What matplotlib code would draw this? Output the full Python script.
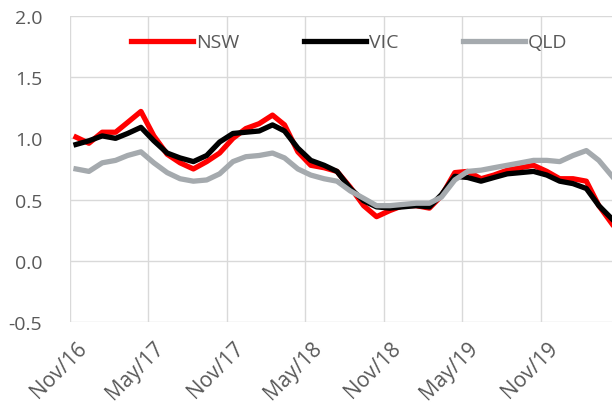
import matplotlib
matplotlib.use("Agg")
import matplotlib.pyplot as plt
import matplotlib.dates as mdates
import matplotlib.transforms as mtrans
import pandas as pd

# monthly series, Nov-2016 .. Apr-2020 (points plotted mid-month)
months = pd.date_range("2016-11-01", periods=42, freq="MS") + pd.Timedelta(days=14)

nsw = [1.01, 0.96, 1.05, 1.05, 1.13, 1.22, 1.02, 0.87, 0.80, 0.75, 0.81, 0.88,
       1.00, 1.08, 1.12, 1.19, 1.11, 0.89, 0.78, 0.76, 0.73, 0.60, 0.45, 0.36,
       0.41, 0.45, 0.45, 0.43, 0.53, 0.72, 0.73, 0.67, 0.70, 0.74, 0.76, 0.78,
       0.73, 0.67, 0.67, 0.65, 0.45, 0.30]
vic = [0.95, 0.98, 1.02, 1.00, 1.04, 1.09, 0.98, 0.88, 0.84, 0.81, 0.86, 0.97,
       1.04, 1.05, 1.06, 1.11, 1.06, 0.92, 0.82, 0.78, 0.73, 0.59, 0.49, 0.44,
       0.43, 0.44, 0.45, 0.44, 0.54, 0.69, 0.68, 0.65, 0.68, 0.71, 0.72, 0.73,
       0.70, 0.65, 0.63, 0.59, 0.45, 0.34]
qld = [0.75, 0.73, 0.80, 0.82, 0.86, 0.89, 0.80, 0.72, 0.67, 0.65, 0.66, 0.71,
       0.81, 0.85, 0.86, 0.88, 0.84, 0.75, 0.70, 0.67, 0.65, 0.57, 0.51, 0.45,
       0.45, 0.46, 0.47, 0.47, 0.52, 0.66, 0.73, 0.74, 0.76, 0.78, 0.80, 0.82,
       0.82, 0.81, 0.86, 0.90, 0.82, 0.69]

plt.rcParams['font.family'] = ['Open Sans', 'DejaVu Sans']

fig = plt.figure(figsize=(6.14, 4.14), dpi=100)
ax = fig.add_axes([0.114, 0.220, 0.883, 0.739])

ax.plot(months, nsw, color="#ff0000", lw=3.8, label="NSW")
ax.plot(months, vic, color="#000000", lw=3.8, label="VIC")
ax.plot(months, qld, color="#a5aaae", lw=3.8, label="QLD")

ax.set_ylim(-0.5, 2.0)
ax.set_yticks([-0.5, 0.0, 0.5, 1.0, 1.5, 2.0])
ax.yaxis.set_major_formatter(matplotlib.ticker.FormatStrFormatter('%.1f'))
ax.set_xlim(pd.Timestamp("2016-11-01"), months[-1])
ax.xaxis.set_major_locator(mdates.MonthLocator(bymonth=[5, 11]))
ax.xaxis.set_major_formatter(mdates.DateFormatter('%b/%y'))

ax.grid(True, color="#d9d9d9", lw=1.0)
ax.set_axisbelow(True)
for s in ax.spines.values():
    s.set_visible(False)
ax.tick_params(axis='both', length=0, labelsize=14, labelcolor="#595959")
ax.tick_params(axis='y', pad=20)
ax.tick_params(axis='x', pad=11, labelsize=15)
shift = mtrans.ScaledTranslation(0.06, 0, fig.dpi_scale_trans)
for lab in ax.get_xticklabels():
    lab.set_rotation(45)
    lab.set_ha('right')
    lab.set_va('top')
    lab.set_rotation_mode('anchor')
    lab.set_transform(lab.get_transform() + shift)

leg = ax.legend(loc='upper center', bbox_to_anchor=(0.515, 1.0), ncol=3, frameon=False,
                fontsize=14, handlelength=3.2, handletextpad=0.15, columnspacing=3.3,
                labelcolor="#595959")

fig.savefig("out.png", dpi=100)
